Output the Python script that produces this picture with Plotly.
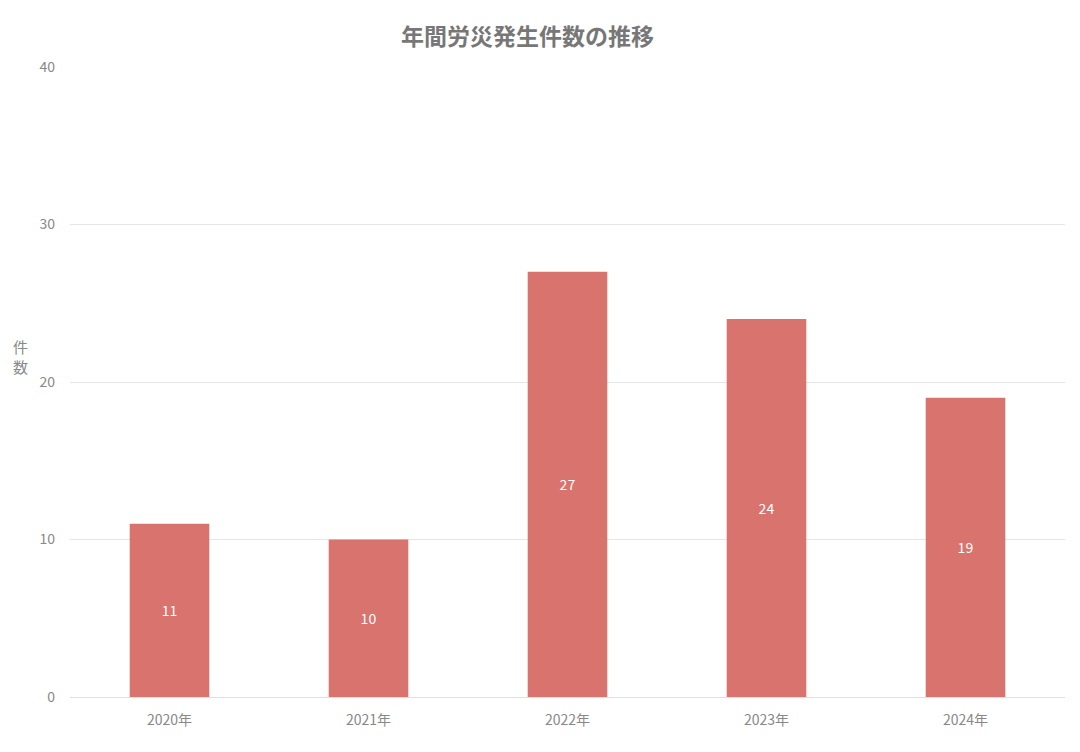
import plotly.graph_objects as go

years  = ['2020年', '2021年', '2022年', '2023年', '2024年']
counts = [11, 10, 27, 24, 19]

fnt = "Noto Sans CJK JP"

fig = go.Figure()
fig.add_trace(go.Bar(x=years, y=counts, width=0.4,
                     marker=dict(color='#d9736e', line=dict(width=0)),
                     text=counts, textposition='inside', insidetextanchor='middle',
                     textfont=dict(color='white', size=14, family=fnt),
                     hoverinfo='x+y'))

# page body adds an 8px offset, so margins are shifted to compensate
fig.update_layout(
    width=1080, height=752,
    paper_bgcolor='white', plot_bgcolor='white',
    margin=dict(l=62, r=23, t=59, b=63),
    font=dict(family=fnt, color='#888888', size=13),
    title=dict(text='<b>年間労災発生件数の推移</b>', x=0.481, xanchor='center', y=0.961, yanchor='middle',
               font=dict(size=23, color='#777777', family=fnt)),
    showlegend=False,
)
fig.update_xaxes(showgrid=False, showline=False, ticks='', ticklabelstandoff=13,
                 tickfont=dict(size=14, color='#888888'))
fig.update_yaxes(range=[0, 40], dtick=10, showgrid=True, gridcolor='#e6e6e6', gridwidth=1,
                 zeroline=True, zerolinecolor='#e0e0e0', zerolinewidth=1,
                 showline=False, ticks='', ticklabelstandoff=14, tickfont=dict(size=14, color='#888888'))
fig.add_annotation(text='件<br>数', xref='paper', yref='paper', x=-0.05, y=0.541,
                   xanchor='center', yanchor='middle', showarrow=False,
                   font=dict(size=15, color='#888888', family=fnt))

fig.write_html("out.html")
